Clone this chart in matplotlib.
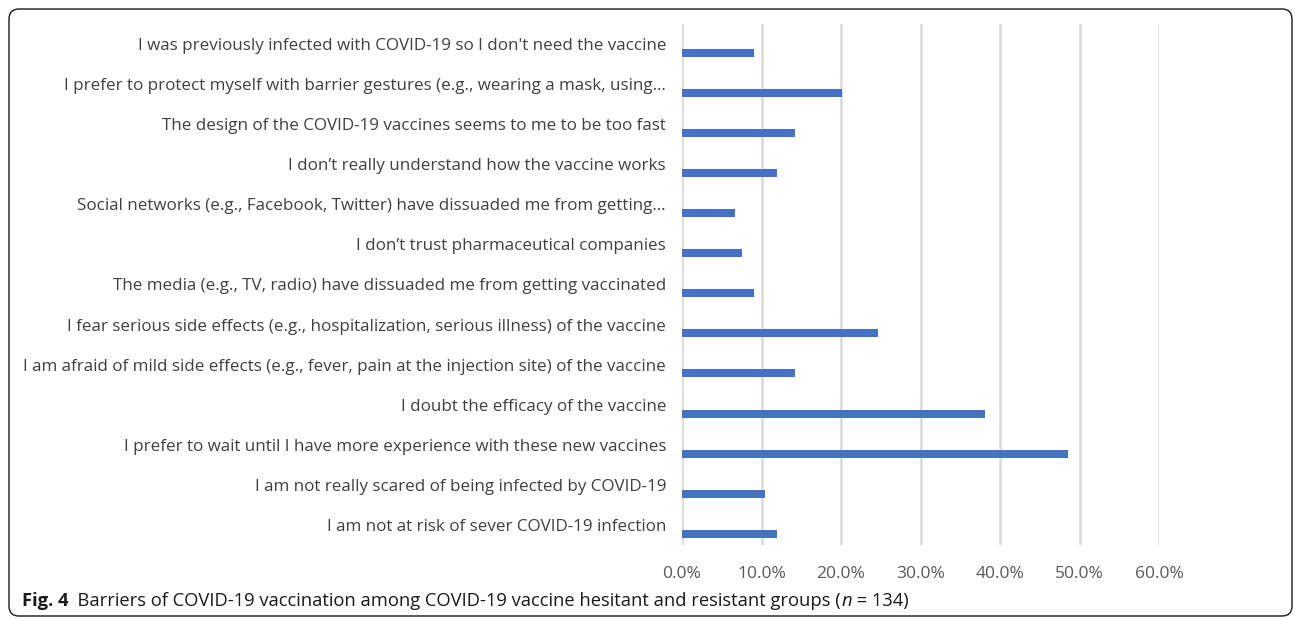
import matplotlib
matplotlib.use("Agg")
import matplotlib.pyplot as plt
from matplotlib.patches import FancyBboxPatch
from matplotlib.ticker import FuncFormatter
from matplotlib.transforms import Affine2D

# Categories listed top to bottom
categories = [
    "I was previously infected with COVID-19 so I don't need the vaccine",
    "I prefer to protect myself with barrier gestures (e.g., wearing a mask, using\u2026",
    "The design of the COVID-19 vaccines seems to me to be too fast",
    "I don\u2019t really understand how the vaccine works",
    "Social networks (e.g., Facebook, Twitter) have dissuaded me from getting\u2026",
    "I don\u2019t trust pharmaceutical companies",
    "The media (e.g., TV, radio) have dissuaded me from getting vaccinated",
    "I fear serious side effects (e.g., hospitalization, serious illness) of the vaccine",
    "I am afraid of mild side effects (e.g., fever, pain at the injection site) of the vaccine",
    "I doubt the efficacy of the vaccine",
    "I prefer to wait until I have more experience with these new vaccines",
    "I am not really scared of being infected by COVID-19",
    "I am not at risk of sever COVID-19 infection",
]
values = [9.0, 20.1, 14.2, 11.9, 6.7, 7.5, 9.0, 24.6, 14.2, 38.1, 48.5, 10.4, 11.9]
x_ticks = [0, 10, 20, 30, 40, 50, 60]
caption_bold = "Fig. 4"
caption_text = "  Barriers of COVID-19 vaccination among COVID-19 vaccine hesitant and resistant groups ("

plt.rcParams['font.family'] = ['Open Sans', 'DejaVu Sans']

W, H = 1295, 620
fig = plt.figure(figsize=(W/100, H/100), dpi=100)
ax = fig.add_axes([682/W, 1-545/H, (1159-682)/W, (545-24)/H])

n = len(categories)
pos = list(range(n))
bar_pos = [p + 0.22 for p in pos]
ax.barh(bar_pos, values, height=0.2, color="#4472C4", zorder=3)
ax.set_ylim(n - 0.5, -0.5)
ax.set_xlim(0, 60)
ax.set_yticks(pos)
ax.set_yticklabels(categories, fontsize=12.25, color="#404040")
ax.set_xticks(x_ticks)
ax.xaxis.set_major_formatter(FuncFormatter(lambda v, p: f"{v:.1f}%"))
ax.tick_params(axis='x', labelsize=12.5, colors="#595959", length=0, pad=15)
ax.tick_params(axis='y', length=0, pad=11.5)
ax.grid(axis='x', color="#D9D9D9", linewidth=1.8, zorder=0)
for s in ax.spines.values():
    s.set_visible(False)

# caption
cy = 1 - 601/H
cs = 13.2
t1 = fig.text(22/W, cy, caption_bold, fontsize=cs, fontweight='bold',
              va='center', ha='left', color="#1a1a1a")
fig.canvas.draw()
x2 = t1.get_window_extent().x1 / fig.bbox.width
t2 = fig.text(x2, cy, caption_text, fontsize=cs, va='center', ha='left', color="#1a1a1a")
fig.canvas.draw()
x3 = t2.get_window_extent().x1 / fig.bbox.width
t3 = fig.text(x3, cy, "n", fontsize=cs, style='italic', va='center', ha='left', color="#1a1a1a")
fig.canvas.draw()
x4 = t3.get_window_extent().x1 / fig.bbox.width
fig.text(x4, cy, " = 134)", fontsize=cs, va='center', ha='left', color="#1a1a1a")

# frame (pixel coordinates, origin bottom-left)
pix = Affine2D().scale(1.0 / W, 1.0 / H) + fig.transFigure
box = FancyBboxPatch((9, H - 616), 1292 - 9, 616 - 9,
                     boxstyle="round,pad=0,rounding_size=10",
                     transform=pix, fill=False, edgecolor="#1a1a1a",
                     linewidth=1.0)
fig.patches.append(box)

fig.savefig("out.png", dpi=100)
